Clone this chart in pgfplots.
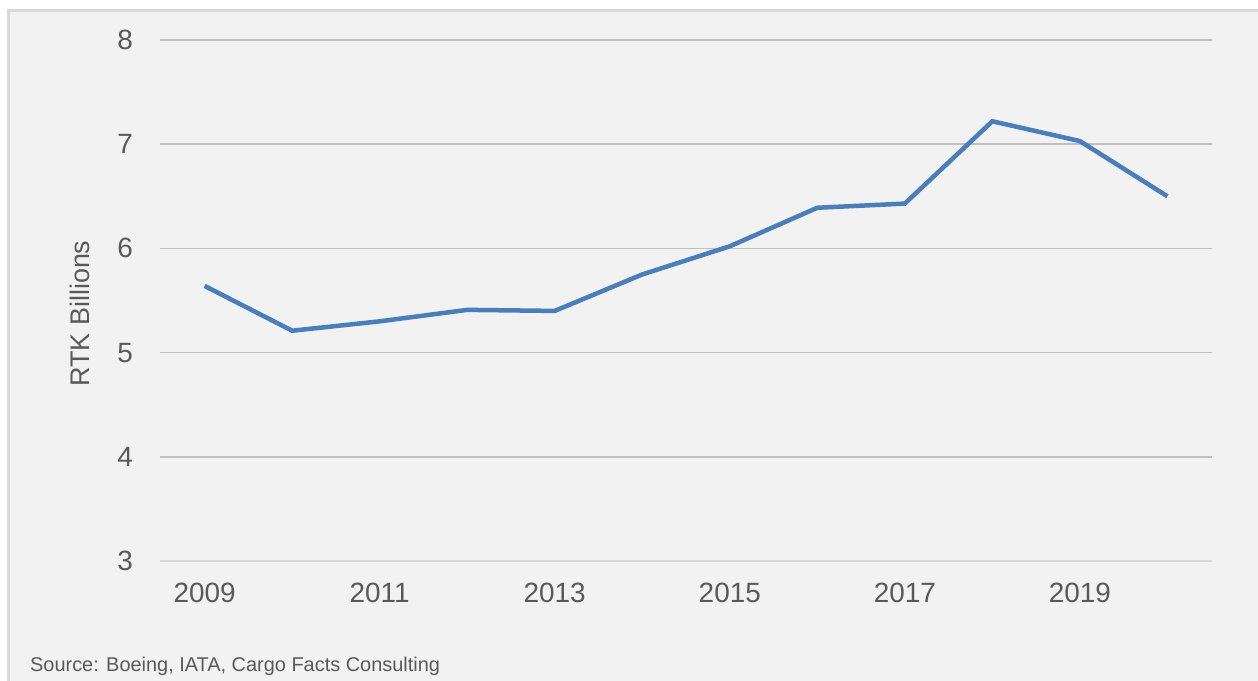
\documentclass[border=0pt]{standalone}
\usepackage{fontspec}
\setmainfont{Liberation Sans}
\usepackage{pgfplots}
\pgfplotsset{compat=1.18}
\definecolor{panel}{HTML}{F2F2F2}
\definecolor{frame}{HTML}{D9D9D9}
\definecolor{gridc}{HTML}{BFBFBF}
\definecolor{axisc}{HTML}{D9D9D9}
\definecolor{labelc}{HTML}{595959}
\definecolor{rtk}{HTML}{4A7EBB}

\begin{document}
\begin{tikzpicture}[x=1bp,y=1bp]
% page background and panel
\fill[white] (-160,-120) rectangle (1098,561);
\fill[panel] (-153,-120) rectangle (1098,552);
\draw[frame, line width=3bp] (-151.5,-120) -- (-151.5,550.5) -- (1098,550.5);
\begin{axis}[
    at={(0,0)}, anchor=south west,
    scale only axis,
    width=1052bp, height=521bp,
    xmin=2008.49, xmax=2020.51,
    ymin=3, ymax=8,
    xtick={2009,2011,2013,2015,2017,2019},
    ytick={3,4,5,6,7,8},
    xticklabel={\pgfmathprintnumber[1000 sep={}]{\tick}},
    axis x line*=bottom,
    axis y line*=left,
    x axis line style={draw=axisc, line width=2bp, -},
    y axis line style={draw=none},
    major tick length=0pt,
    ymajorgrids,
    grid style={draw=gridc, line width=1.5bp},
    tick label style={font=\fontsize{28}{28}\selectfont, text=labelc, inner sep=0pt},
    xticklabel style={anchor=north, yshift=-22bp},
    yticklabel style={anchor=east, xshift=-27bp},
    /pgf/number format/assume math mode=true,
    ylabel={RTK Billions},
    every axis y label/.style={at={(axis description cs:-0.076,0.475)}, rotate=90, anchor=center,
        font=\fontsize{27}{27}\selectfont, text=labelc},
]
\addplot[color=rtk, line width=4.5bp] coordinates {
    (2009, 5.64)
    (2010, 5.21)
    (2011, 5.30)
    (2012, 5.41)
    (2013, 5.40)
    (2014, 5.75)
    (2015, 6.02)
    (2016, 6.39)
    (2017, 6.43)
    (2018, 7.22)
    (2019, 7.03)
    (2020, 6.50)
};
\end{axis}
\node[anchor=base west, inner sep=0pt, font=\fontsize{20}{20}\selectfont, text=labelc] at (-130,-111)
    {Source: Boeing, IATA, Cargo Facts Consulting};
\pgfresetboundingbox
\path (-160,-120) rectangle (1098,561);
\end{tikzpicture}
\end{document}
